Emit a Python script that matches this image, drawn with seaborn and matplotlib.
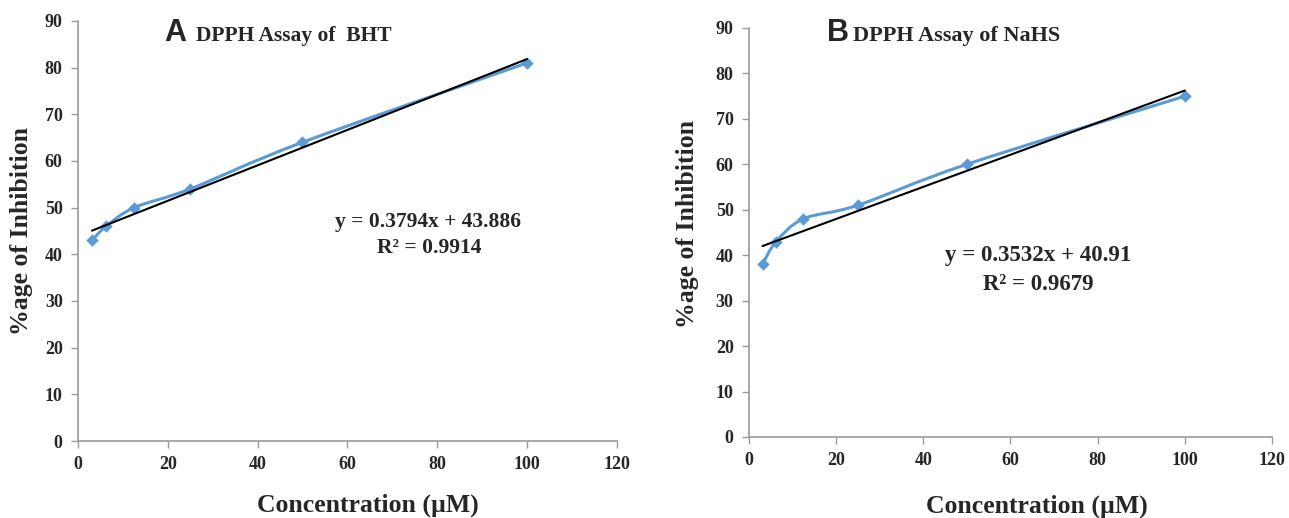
import numpy as np
import pandas as pd
import seaborn as sns
import matplotlib
matplotlib.use("Agg")
import matplotlib.pyplot as plt
from matplotlib.path import Path
from matplotlib.patches import PathPatch

# ---------------- data ----------------
concentration = [3.125, 6.25, 12.5, 25, 50, 100]
inhibition_bht = [43, 46, 50, 54, 64, 81]
inhibition_nahs = [38, 43, 48, 51, 60, 75]
fit_bht = (0.3794, 43.886, 0.9914)
fit_nahs = (0.3532, 40.91, 0.9679)
xticks = [0, 20, 40, 60, 80, 100, 120]
yticks = [0, 10, 20, 30, 40, 50, 60, 70, 80, 90]

sns.set_theme(style="white")
plt.rcParams["font.family"] = ["Liberation Serif", "DejaVu Serif"]
plt.rcParams["font.weight"] = "bold"

BLUE = "#5b9bd5"
GREY = "#9a9a9a"

fig = plt.figure(figsize=(12.89, 5.18), dpi=100)
axA = fig.add_axes([0.0605, 0.1486, 0.418, 0.811])
axB = fig.add_axes([0.581, 0.1564, 0.4058, 0.7896])


def smooth_path(ax, xs, ys, xr, yr):
    # Excel-like smooth line: Catmull-Rom converted to cubic Bezier (computed in normalized space)
    X = np.asarray(xs, float) / xr
    Y = np.asarray(ys, float) / yr
    P = np.column_stack([X, Y])
    n = len(P)
    verts = [P[0]]
    codes = [Path.MOVETO]
    for i in range(n - 1):
        p0 = P[i - 1] if i > 0 else P[i]
        p1 = P[i]
        p2 = P[i + 1]
        p3 = P[i + 2] if i + 2 < n else P[i + 1]
        c1 = p1 + (p2 - p0) / 6.0
        c2 = p2 - (p3 - p1) / 6.0
        verts += [c1, c2, p2]
        codes += [Path.CURVE4] * 3
    V = np.array(verts)
    V[:, 0] *= xr
    V[:, 1] *= yr
    patch = PathPatch(Path(V, codes), facecolor="none", edgecolor=BLUE, lw=2.2, zorder=3)
    ax.add_patch(patch)


def panel(ax, ys, fit, letter, title, letter_pos, title_pos, title_size, eq_pos, r2_pos, eq_size):
    slope, intercept, r2 = fit
    df = pd.DataFrame({"x": concentration, "y": ys})
    smooth_path(ax, concentration, ys, 120, 90)
    sns.scatterplot(data=df, x="x", y="y", ax=ax, marker="D", s=40, color=BLUE,
                    edgecolor=BLUE, linewidth=0, zorder=4, legend=False)
    tx = [concentration[0], concentration[-1]]
    trend = pd.DataFrame({"x": tx, "y": [slope * v + intercept for v in tx]})
    sns.lineplot(data=trend, x="x", y="y", ax=ax, color="black", lw=1.5, zorder=5)

    ax.set_xlim(0, 120)
    ax.set_ylim(0, 90)
    ax.set_xticks(xticks)
    ax.set_yticks(yticks)
    ax.set_xticklabels([str(t) for t in xticks], fontsize=13, fontweight="bold")
    ax.set_yticklabels([str(t) for t in yticks], fontsize=13, fontweight="bold")
    for s in ["top", "right"]:
        ax.spines[s].set_visible(False)
    for s in ["left", "bottom"]:
        ax.spines[s].set_color(GREY)
        ax.spines[s].set_linewidth(1.2)
    ax.tick_params(axis="both", which="both", direction="out", length=5, width=1.0,
                   color=GREY, bottom=True, left=True, pad=6)
    ax.set_xlabel("Concentration (µM)", fontsize=18.5, fontweight="bold")
    ax.set_ylabel("%age of Inhibition", fontsize=18.5, fontweight="bold")
    ax.grid(False)

    ax.text(letter_pos[0], letter_pos[1], letter, transform=ax.transAxes, ha="left", va="center",
            fontsize=22, fontweight="bold", family=["Liberation Sans", "DejaVu Sans"])
    ax.text(title_pos[0], title_pos[1], title, transform=ax.transAxes, ha="left", va="center",
            fontsize=title_size, fontweight="bold")
    ax.text(eq_pos[0], eq_pos[1], f"y = {slope}x + {intercept}", transform=ax.transAxes,
            ha="center", va="center", fontsize=eq_size, fontweight="bold")
    ax.text(r2_pos[0], r2_pos[1], f"R² = {r2}", transform=ax.transAxes,
            ha="center", va="center", fontsize=eq_size, fontweight="bold")


panel(axA, inhibition_bht, fit_bht, "A", "DPPH Assay of  BHT",
      (0.161, 0.972), (0.219, 0.965), 15.5, (0.649, 0.521), (0.652, 0.459), 15.5)
panel(axB, inhibition_nahs, fit_nahs, "B", "DPPH Assay of NaHS",
      (0.149, 0.988), (0.199, 0.981), 16, (0.553, 0.4425), (0.553, 0.374), 16.5)

axA.xaxis.set_label_coords(0.538, -0.126)
axA.yaxis.set_label_coords(-0.083, 0.5)
axB.xaxis.set_label_coords(0.55, -0.141)
axB.yaxis.set_label_coords(-0.096, 0.52)

fig.savefig("out.png", dpi=100, facecolor="white")
